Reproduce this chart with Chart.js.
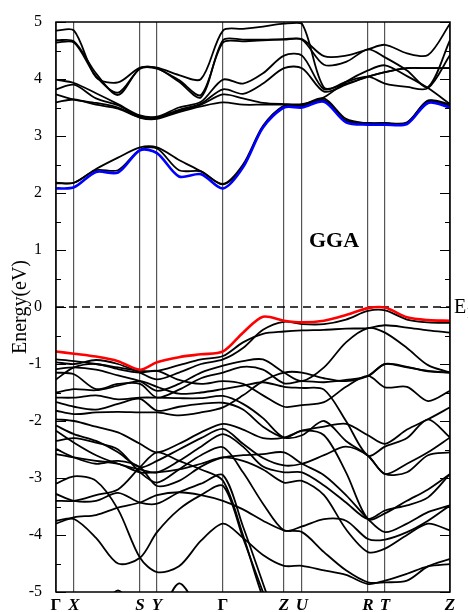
<!DOCTYPE html>
<html>
<head>
<meta charset="utf-8">
<script src="https://cdn.jsdelivr.net/npm/chart.js@4.4.1/dist/chart.umd.min.js"></script>
<style>
  html, body { margin: 0; padding: 0; background: #fff; }
  #wrap { width: 468px; height: 612px; position: relative; }
</style>
</head>
<body>
<div id="wrap"><canvas id="bandas"></canvas></div>
<script>
/* Estrutura de bandas GGA — caminho Γ-X-S-Y-Γ-Z-U-R-T-Z */

// posições no caminho k (amostras) e pontos de alta simetria
const KPOS = [0, 18, 40, 62, 84, 101, 123, 145, 167, 187, 207, 228, 246, 268, 290, 312, 329, 351, 372, 394];
const HS_POS = [0, 18, 84, 101, 167, 228, 246, 312, 329, 394];
const HS_LABELS = ['Γ', 'X', 'S', 'Y', 'Γ', 'Z', 'U', 'R', 'T', 'Z'];
const Y_TICKS = [-5, -4, -3, -2, -1, 0, 1, 2, 3, 4, 5];

// banda de condução mais baixa (azul) e banda de valência mais alta (vermelha)
const cbAzul = [2.08, 2.10, 2.37, 2.36, 2.75, 2.70, 2.29, 2.33, 2.08, 2.45, 3.15, 3.50, 3.50, 3.60, 3.24, 3.20, 3.20, 3.21, 3.58, 3.50];
const vbVermelha = [-0.78, -0.82, -0.87, -0.95, -1.10, -0.97, -0.88, -0.83, -0.78, -0.45, -0.17, -0.24, -0.27, -0.24, -0.14, -0.02, -0.01, -0.18, -0.23, -0.24];

// demais bandas de condução
const cb2 = [2.17, 2.18, 2.42, 2.62, 2.80, 2.80, 2.58, 2.38, 2.16, 2.50, 3.18, 3.53, 3.53, 3.63, 3.27, 3.23, 3.23, 3.24, 3.62, 3.53];
const cb3 = [2.18, 2.18, 2.40, 2.40, 2.76, 2.78, 2.40, 2.38, 2.15, 2.47, 3.16, 3.52, 3.52, 3.62, 3.26, 3.22, 3.22, 3.23, 3.60, 3.52];
const cb4 = [4.85, 4.85, 4.03, 3.94, 4.20, 4.20, 4.07, 4.00, 4.85, 4.88, 4.92, 4.97, 4.97, 3.85, 3.92, 4.04, 4.12, 4.19, 4.19, 4.19];
const cb5 = [4.68, 4.66, 4.10, 3.72, 4.19, 4.19, 3.95, 3.68, 4.68, 4.69, 4.69, 4.70, 4.70, 4.40, 4.41, 4.52, 4.60, 4.45, 4.42, 4.97];
const cb6 = [4.64, 4.64, 4.05, 3.76, 4.18, 4.18, 3.98, 3.72, 4.64, 4.66, 4.68, 4.69, 4.69, 4.25, 4.30, 4.52, 4.38, 4.15, 3.86, 4.68];
const cb7 = [3.99, 3.93, 3.75, 3.56, 3.36, 3.34, 3.50, 3.60, 3.99, 3.92, 4.10, 4.41, 4.41, 3.82, 3.95, 4.04, 3.92, 3.86, 3.84, 4.42];
const cb8 = [3.82, 3.90, 3.66, 3.54, 3.34, 3.33, 3.46, 3.57, 3.82, 3.74, 3.92, 4.19, 4.19, 3.78, 3.90, 4.04, 4.12, 4.19, 4.19, 4.19];
const cb9 = [3.73, 3.64, 3.58, 3.50, 3.33, 3.32, 3.44, 3.55, 3.73, 3.66, 3.58, 3.56, 3.56, 3.68, 3.95, 4.15, 4.24, 4.05, 3.84, 3.56];
const cb10 = [3.59, 3.64, 3.55, 3.48, 3.32, 3.30, 3.42, 3.52, 3.59, 3.55, 3.55, 3.55, 3.55, 3.66, 3.30, 3.22, 3.22, 3.23, 3.62, 3.56];

// demais bandas de valência
const vb1 = [-0.92, -0.95, -1.00, -1.06, -1.12, -1.12, -1.02, -0.92, -0.86, -0.62, -0.47, -0.43, -0.41, -0.40, -0.38, -0.37, -0.32, -0.36, -0.41, -0.45];
const vb2 = [-0.97, -1.00, -0.93, -1.00, -1.15, -1.27, -1.15, -1.00, -0.92, -0.72, -0.40, -0.26, -0.30, -0.30, -0.22, -0.07, -0.06, -0.22, -0.27, -0.28];
const vb3 = [-1.09, -1.06, -1.10, -1.20, -1.30, -1.47, -1.35, -1.15, -1.03, -0.95, -0.92, -1.15, -1.30, -1.06, -0.62, -0.37, -0.45, -0.72, -1.02, -1.15];
const vb4 = [-1.15, -1.18, -1.44, -1.35, -1.35, -1.59, -1.45, -1.25, -1.15, -1.05, -1.10, -1.34, -1.30, -1.32, -1.28, -1.21, -1.00, -1.06, -1.12, -1.15];
const vb5 = [-1.27, -1.06, -1.00, -1.09, -1.15, -1.12, -1.28, -1.35, -1.30, -1.35, -1.55, -1.75, -1.72, -1.67, -1.40, -1.21, -1.41, -1.40, -1.65, -1.47];
const vb6 = [-1.50, -1.44, -1.46, -1.38, -1.30, -1.40, -1.52, -1.50, -1.44, -1.38, -1.32, -1.40, -1.42, -1.45, -2.00, -2.61, -2.45, -2.30, -1.97, -2.29];
const vb7 = [-1.59, -1.59, -1.55, -1.62, -1.59, -1.59, -1.60, -1.60, -1.56, -1.70, -1.95, -2.29, -2.17, -2.25, -2.90, -3.72, -3.62, -3.40, -3.20, -2.93];
const vb8 = [-1.67, -1.75, -1.80, -1.70, -1.61, -1.82, -1.75, -1.70, -1.68, -1.80, -2.10, -2.29, -2.25, -2.00, -2.35, -2.61, -2.93, -2.90, -2.60, -2.55];
const vb9 = [-1.82, -1.88, -1.85, -1.84, -1.85, -1.85, -1.90, -1.85, -1.76, -1.55, -1.30, -1.15, -1.15, -1.25, -1.30, -1.21, -1.00, -1.05, -1.13, -1.15];
const vb10 = [-1.97, -2.00, -2.10, -2.20, -2.40, -2.55, -2.40, -2.20, -2.05, -2.15, -2.30, -2.29, -2.17, -2.10, -2.05, -2.25, -2.40, -2.15, -1.97, -1.76];
const vb11 = [-2.08, -2.23, -2.35, -2.55, -2.81, -2.70, -2.50, -2.30, -2.14, -2.40, -2.65, -2.78, -2.75, -2.60, -2.45, -2.61, -2.93, -2.75, -2.55, -2.29];
const vb12 = [-2.17, -2.38, -2.60, -2.75, -2.85, -2.90, -2.70, -2.45, -2.23, -2.45, -2.80, -2.90, -2.90, -3.13, -3.43, -3.72, -3.57, -3.48, -3.34, -2.93];
const vb13 = [-3.80, -3.69, -3.65, -3.52, -3.43, -3.30, -3.25, -3.30, -3.40, -3.55, -3.75, -3.92, -3.95, -4.30, -4.62, -4.83, -4.83, -4.80, -4.55, -4.42];
const vb14 = [-2.35, -2.30, -2.38, -2.50, -2.90, -3.08, -2.85, -2.60, -2.46, -2.90, -3.45, -3.92, -3.85, -3.72, -3.75, -4.07, -4.08, -3.95, -3.75, -3.48];
const vb15 = [-2.58, -2.64, -2.70, -2.75, -2.90, -2.90, -2.85, -2.75, -2.64, -2.70, -2.85, -3.08, -3.05, -3.30, -3.90, -4.30, -4.24, -4.00, -3.80, -3.92];
const vb16 = [-3.10, -2.97, -3.05, -3.55, -4.40, -4.65, -4.55, -4.10, -3.80, -4.05, -4.35, -4.54, -4.54, -4.62, -4.70, -4.86, -4.80, -4.68, -4.55, -4.51];
const vb17 = [-3.75, -3.72, -4.05, -4.50, -4.40, -3.95, -3.55, -3.30, -3.14, -4.05, -5.00, -5.90, null, null, null, null, null, null, null, null];
const vb18 = [-3.28, -3.40, -3.40, -3.26, -3.43, -3.45, -3.25, -3.10, -2.95, -3.85, -4.85, -5.90, null, null, null, null, null, null, null, null];
const vb19 = [-3.40, -3.40, -3.30, -3.20, -2.81, -2.55, -2.70, -2.85, -3.05, -4.00, -5.10, -5.90, null, null, null, null, null, null, null, null];
const vb20 = [-2.49, -2.64, -2.75, -2.70, -2.81, -3.14, -3.05, -2.80, -2.64, -2.60, -2.58, -2.55, -2.75, -2.95, -3.30, -3.72, -3.95, -3.80, -3.60, -3.48];
const vb21 = [null, null, -5.60, -4.97, -5.60, null, null, null, null, null, null, null, null, null, null, null, null, null, null, null];
const vb22 = [null, null, null, null, null, -5.60, -4.85, -5.40, null, null, null, null, null, null, null, null, null, null, null, null];

const bandasPretas = [cb2, cb3, cb4, cb5, cb6, cb7, cb8, cb9, cb10,
  vb1, vb2, vb3, vb4, vb5, vb6, vb7, vb8, vb9, vb10, vb11, vb12, vb13, vb14, vb15, vb16, vb17, vb18, vb19, vb20, vb21, vb22];

const SERIF = "'Liberation Serif', 'Times New Roman', serif";

function pontos(banda) {
  return KPOS.map((x, i) => ({ x, y: banda[i] }));
}

const datasets = [
  { data: pontos(vbVermelha), borderColor: '#ff0000', borderWidth: 2.6, order: 0 },
  { data: pontos(cbAzul), borderColor: '#0000ff', borderWidth: 2.6, order: 0 },
  ...bandasPretas.map(b => ({ data: pontos(b), borderColor: '#000', borderWidth: 1.8, order: 1 })),
  { data: [{ x: 0, y: 0 }, { x: 394, y: 0 }], borderColor: '#000', borderWidth: 1.4,
    borderDash: [8, 5], tension: 0, order: 2 }
];

// moldura, ticks internos, rótulo GGA e E_F
const extras = {
  id: 'extras',
  afterDraw(chart) {
    const { ctx, chartArea: a, scales: { x, y } } = chart;
    ctx.save();
    ctx.strokeStyle = '#000';
    ctx.lineWidth = 1.5;
    ctx.strokeRect(a.left, a.top, a.right - a.left, a.bottom - a.top);
    ctx.lineWidth = 1;
    for (let v = -5; v <= 5; v += 0.5) {
      const py = Math.round(y.getPixelForValue(v)) + 0.5;
      const len = Number.isInteger(v) ? 10 : 5;
      ctx.beginPath();
      ctx.moveTo(a.left, py); ctx.lineTo(a.left + len, py);
      ctx.moveTo(a.right, py); ctx.lineTo(a.right - len, py);
      ctx.stroke();
    }
    ctx.fillStyle = '#000';
    ctx.font = 'bold 22px ' + SERIF;
    ctx.textAlign = 'center';
    ctx.textBaseline = 'middle';
    ctx.fillText('GGA', x.getPixelForValue(278), y.getPixelForValue(1.16));
    ctx.textAlign = 'left';
    const yEf = y.getPixelForValue(0);
    ctx.font = '20px ' + SERIF;
    ctx.fillText('E', a.right + 4, yEf + 1);
    ctx.font = '14px ' + SERIF;
    ctx.fillText('F', a.right + 17, yEf + 7);
    ctx.restore();
  }
};

new Chart(document.getElementById('bandas'), {
  type: 'line',
  data: { datasets },
  options: {
    responsive: true, maintainAspectRatio: false, animation: false,
    layout: { padding: { top: 22, right: 18, left: 0, bottom: 0 } },
    elements: {
      line: { tension: 0.3, fill: false },
      point: { radius: 0, hoverRadius: 0 }
    },
    plugins: { legend: { display: false }, tooltip: { enabled: false } },
    scales: {
      x: {
        type: 'linear', min: 0, max: 394,
        afterBuildTicks: s => { s.ticks = HS_POS.map(v => ({ value: v })); },
        afterFit: s => { s.height = 20; },
        grid: { color: '#555', lineWidth: 1.2, drawTicks: false },
        border: { display: false },
        ticks: {
          padding: 3, color: '#000', autoSkip: false, maxRotation: 0,
          callback: (v, i) => HS_LABELS[i],
          font: c => ({ family: SERIF, size: 17, weight: 'bold',
            style: HS_LABELS[c.index] === 'Γ' ? 'normal' : 'italic' })
        }
      },
      y: {
        type: 'linear', min: -5, max: 5,
        afterBuildTicks: s => { s.ticks = Y_TICKS.map(v => ({ value: v })); },
        afterFit: s => { s.width = 56; },
        grid: { display: false },
        border: { display: false },
        ticks: { padding: 6, color: '#000', font: { family: SERIF, size: 16 } },
        title: { display: true, text: 'Energy(eV)', color: '#000',
          font: { family: SERIF, size: 20 }, padding: { top: 9, bottom: 0 } }
      }
    }
  },
  plugins: [extras]
});
</script>
</body>
</html>
